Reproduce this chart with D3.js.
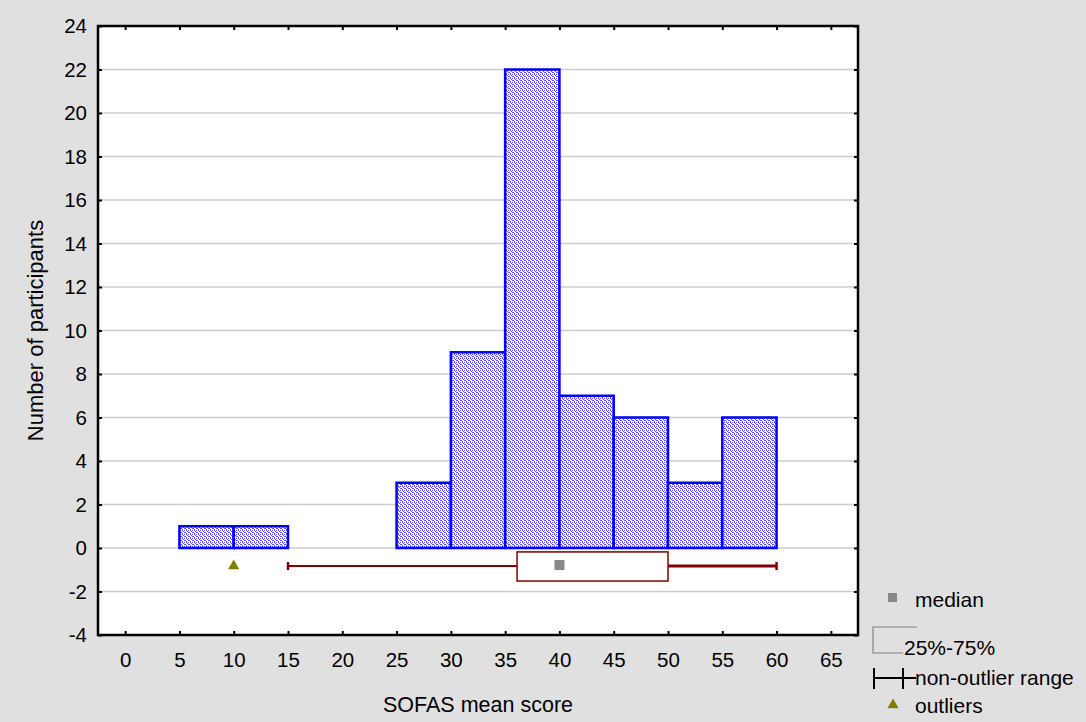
<!DOCTYPE html>
<html>
<head>
<meta charset="utf-8">
<script src="https://cdn.jsdelivr.net/npm/d3@7"></script>
<style>
  body { margin: 0; background: #e0e0e0; }
  text { font-family: Arial, "Liberation Sans", sans-serif; fill: #000; }
</style>
</head>
<body>
<div id="chart-area"></div>
<script>
// histogram bins (lower edge, upper edge, count)
const binLo = [5, 10, 25, 30, 35, 40, 45, 50, 55];
const binHi = [10, 15, 30, 35, 40, 45, 50, 55, 60];
const counts = [1, 1, 3, 9, 22, 7, 6, 3, 6];

// box plot summary
const boxStats = { min: 15, q1: 36.1, median: 40, q3: 50, max: 60 };
const outliers = [10];

const xTicks = d3.range(0, 70, 5);
const yTicks = d3.range(-4, 26, 2);

const svgWidth = 1086, svgHeight = 722;
const margin = { left: 98, right: 228, top: 26, bottom: 87 };
const width = svgWidth - margin.left - margin.right;
const height = svgHeight - margin.top - margin.bottom;
const font = "Arial, 'Liberation Sans', sans-serif";

const svg = d3.select("#chart-area")
              .append("svg")
              .attr("width", svgWidth)
              .attr("height", svgHeight);

svg.append("rect")
   .attr("width", svgWidth).attr("height", svgHeight)
   .attr("fill", "#e0e0e0");

const defs = svg.append("defs");
const pat = defs.append("pattern")
                .attr("id", "dots")
                .attr("patternUnits", "userSpaceOnUse")
                .attr("width", 4).attr("height", 4);
pat.append("rect").attr("width", 4).attr("height", 4).attr("fill", "#ffffff");
[[0, 0], [2, 0], [1, 1], [3, 2], [0, 3], [2, 2]].forEach(p => {
  pat.append("rect").attr("x", p[0]).attr("y", p[1])
     .attr("width", 1).attr("height", 1).attr("fill", "#5050ff");
});

const g = svg.append("g")
             .attr("transform", `translate(${margin.left},${margin.top})`);

const x = d3.scaleLinear().domain([-2.5, 67.5]).range([0, width]);
const y = d3.scaleLinear().domain([-4, 24]).range([height, 0]);

g.append("rect")
 .attr("width", width).attr("height", height)
 .attr("fill", "#ffffff");

// grid lines
g.selectAll(".grid")
 .data(yTicks.filter(d => d > -4 && d < 24))
 .enter()
 .append("line")
   .attr("x1", 0).attr("x2", width)
   .attr("y1", d => y(d)).attr("y2", d => y(d))
   .attr("stroke", "#cccccc")
   .attr("stroke-width", 1.5);

// bars
g.selectAll(".bar")
 .data(counts)
 .enter()
 .append("rect")
   .attr("x", (d, i) => x(binLo[i]))
   .attr("width", (d, i) => x(binHi[i]) - x(binLo[i]))
   .attr("y", d => y(d))
   .attr("height", d => y(0) - y(d))
   .attr("fill", "url(#dots)")
   .attr("stroke", "#0000ff")
   .attr("stroke-width", 2.5);

// box plot
const bTop = y(-0.18), bBot = y(-1.52), bMid = y(-0.83);
const boxColor = "#800000";
g.append("line")
 .attr("x1", x(boxStats.min)).attr("x2", x(boxStats.q1))
 .attr("y1", bMid).attr("y2", bMid)
 .attr("stroke", boxColor).attr("stroke-width", 2);
g.append("line")
 .attr("x1", x(boxStats.q3)).attr("x2", x(boxStats.max))
 .attr("y1", bMid).attr("y2", bMid)
 .attr("stroke", boxColor).attr("stroke-width", 3);
[boxStats.min, boxStats.max].forEach(v => {
  g.append("line")
   .attr("x1", x(v)).attr("x2", x(v))
   .attr("y1", bMid - 4).attr("y2", bMid + 4)
   .attr("stroke", boxColor).attr("stroke-width", 2.5);
});
g.append("rect")
 .attr("x", x(boxStats.q1)).attr("y", bTop)
 .attr("width", x(boxStats.q3) - x(boxStats.q1))
 .attr("height", bBot - bTop)
 .attr("fill", "#ffffff")
 .attr("stroke", boxColor).attr("stroke-width", 1.5);
g.append("rect")
 .attr("x", x(boxStats.median) - 5).attr("y", bMid - 6)
 .attr("width", 10).attr("height", 10)
 .attr("fill", "#888888");

g.selectAll(".outlier")
 .data(outliers)
 .enter()
 .append("path")
   .attr("d", d3.symbol(d3.symbolTriangle, 55))
   .attr("transform", d => `translate(${x(d)},${bMid})`)
   .attr("fill", "#808000");

// axes
const tickFmt = d => d3.format("d")(d).replace("−", "-");
g.append("g")
 .attr("transform", `translate(0,${height})`)
 .call(d3.axisBottom(x).tickValues(xTicks).tickSize(-4).tickPadding(17).tickFormat(tickFmt))
 .call(a => a.select(".domain").remove())
 .selectAll("text").attr("font-size", 20.5).attr("font-family", font);
g.append("g")
 .call(d3.axisTop(x).tickValues(xTicks).tickSize(-4).tickFormat(""))
 .call(a => a.select(".domain").remove());
g.append("g")
 .call(d3.axisLeft(y).tickValues(yTicks).tickSize(-4).tickPadding(11).tickFormat(tickFmt))
 .call(a => a.select(".domain").remove())
 .selectAll("text").attr("font-size", 20.5).attr("font-family", font);
g.append("g")
 .attr("transform", `translate(${width},0)`)
 .call(d3.axisRight(y).tickValues(yTicks).tickSize(-4).tickFormat(""))
 .call(a => a.select(".domain").remove());
g.selectAll(".tick line").attr("stroke", "#000").attr("stroke-width", 2);

g.append("rect")
 .attr("width", width).attr("height", height)
 .attr("fill", "none")
 .attr("stroke", "#000").attr("stroke-width", 2.5);

// axis labels
svg.append("text")
   .attr("x", margin.left + width / 2)
   .attr("y", 712)
   .attr("text-anchor", "middle")
   .attr("font-size", 21.5)
   .text("SOFAS mean score");
svg.append("text")
   .attr("x", -(margin.top + height / 2))
   .attr("y", 43)
   .attr("text-anchor", "middle")
   .attr("transform", "rotate(-90)")
   .attr("font-size", 22)
   .text("Number of participants");

// legend
const lg = svg.append("g");
lg.append("rect").attr("x", 888).attr("y", 593).attr("width", 9).attr("height", 9).attr("fill", "#888888");
lg.append("text").attr("x", 915).attr("y", 607).attr("font-size", 21).text("median");
lg.append("path").attr("d", "M917,627H873V653H903").attr("fill", "none").attr("stroke", "#808080").attr("stroke-width", 1.2);
lg.append("text").attr("x", 904).attr("y", 655).attr("font-size", 21).text("25%-75%");
lg.append("path").attr("d", "M874,668V689M874,678H916M903,668V689")
  .attr("fill", "none").attr("stroke", "#000").attr("stroke-width", 2);
lg.append("text").attr("x", 915).attr("y", 685).attr("font-size", 21).text("non-outlier range");
lg.append("path").attr("d", d3.symbol(d3.symbolTriangle, 55))
  .attr("transform", "translate(893,705)").attr("fill", "#808000");
lg.append("text").attr("x", 915).attr("y", 713).attr("font-size", 21).text("outliers");
</script>
</body>
</html>
